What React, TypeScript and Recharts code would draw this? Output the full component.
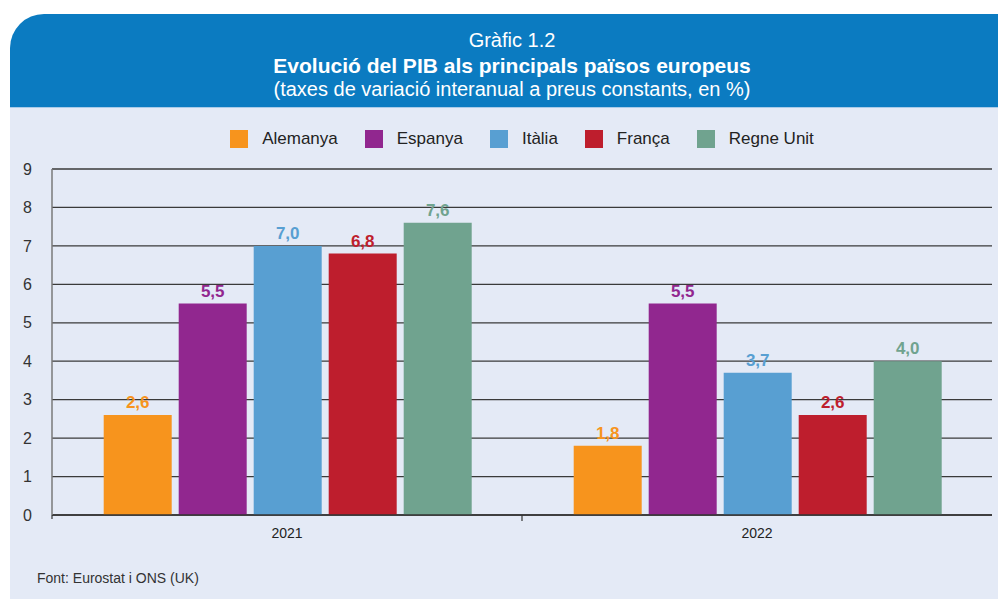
import { Bar, BarChart, CartesianGrid, LabelList, XAxis, YAxis } from "recharts"

const years = ["2021", "2022"]
const countries = ["Alemanya", "Espanya", "Itàlia", "França", "Regne Unit"]
const colors = ["#f7941d", "#91278f", "#589fd2", "#be1e2d", "#70a38f"]
const alemanya = [2.6, 1.8]
const espanya = [5.5, 5.5]
const italia = [7.0, 3.7]
const franca = [6.8, 2.6]
const regneUnit = [7.6, 4.0]
const yTicks = [0, 1, 2, 3, 4, 5, 6, 7, 8, 9]

const seriesValues = [alemanya, espanya, italia, franca, regneUnit]
const data = years.map((year, i) => {
  const row: Record<string, string | number> = { year }
  countries.forEach((c, j) => {
    row[c] = seriesValues[j][i]
  })
  return row
})

const FONT = "'Liberation Sans', Arial, Helvetica, sans-serif"
const fmt = (v: any) => Number(v).toFixed(1).replace(".", ",")

function YearTick(props: any) {
  const { x, y, payload } = props
  const half = payload?.offset ?? 235
  return (
    <g>
      <text x={x} y={y + 23} textAnchor="middle" fontSize={14} fill="#222" fontFamily={FONT}>
        {payload.value}
      </text>
      {payload.index === 0 && (
        <>
          <line x1={x - half} x2={x - half} y1={y} y2={y + 4} stroke="#333" strokeWidth={1.2} />
          <line x1={x + half} x2={x + half} y1={y} y2={y + 6} stroke="#333" strokeWidth={1.2} />
        </>
      )}
    </g>
  )
}

export default function App() {
  return (
    <div
      style={{
        position: "absolute",
        left: 0,
        top: 0,
        width: 998,
        height: 601,
        overflow: "hidden",
        background: "#fff",
        fontFamily: FONT,
      }}
    >
      <div
        style={{
          position: "absolute",
          left: 10,
          top: 14,
          width: 1004,
          height: 93,
          background: "#0b7bc1",
          borderTopLeftRadius: 34,
          color: "#fff",
          textAlign: "center",
        }}
      >
        <div style={{ position: "absolute", top: 14, width: "100%", fontSize: 20, lineHeight: "24px" }}>Gràfic 1.2</div>
        <div style={{ position: "absolute", top: 39, width: "100%", fontSize: 21, fontWeight: 700, lineHeight: "25px" }}>
          Evolució del PIB als principals països europeus
        </div>
        <div style={{ position: "absolute", top: 63, width: "100%", fontSize: 20, lineHeight: "25px" }}>
          (taxes de variació interanual a preus constants, en %)
        </div>
      </div>
      <div
        style={{
          position: "absolute",
          left: 10,
          top: 107,
          width: 988,
          height: 491,
          background: "#e4eaf6",
          borderTop: "1px solid #a9cbe8",
        }}
      />
      <div
        style={{
          position: "absolute",
          left: 52,
          top: 129,
          width: 940,
          height: 20,
          display: "flex",
          justifyContent: "center",
          alignItems: "center",
          gap: 27,
        }}
      >
        {countries.map((c, i) => (
          <div key={c} style={{ display: "flex", alignItems: "center", gap: 14 }}>
            <span style={{ width: 18, height: 18, background: colors[i], display: "inline-block" }} />
            <span style={{ fontSize: 17, color: "#222" }}>{c}</span>
          </div>
        ))}
      </div>
      <div style={{ position: "absolute", left: 0, top: 0 }}>
        <BarChart
          width={998}
          height={601}
          data={data}
          margin={{ top: 169, right: 6, bottom: 56, left: 12 }}
          barCategoryGap="11%"
          barGap={7}
        >
          <CartesianGrid vertical={false} stroke="#3a3a3a" strokeWidth={1.3} />
          <XAxis
            dataKey="year"
            height={30}
            tickLine={false}
            tickSize={0}
            tickMargin={0}
            axisLine={{ stroke: "#333", strokeWidth: 1.5 }}
            tick={<YearTick />}
          />
          <YAxis
            width={40}
            domain={[0, 9]}
            ticks={yTicks}
            interval={0}
            tickLine={false}
            tickMargin={14}
            axisLine={{ stroke: "#7a7a7a", strokeWidth: 1.5 }}
            tick={{ fill: "#333", fontSize: 16, fontFamily: FONT }}
          />
          {countries.map((c, i) => (
            <Bar key={c} dataKey={c} fill={colors[i]} isAnimationActive={false}>
              <LabelList
                dataKey={c}
                position="top"
                offset={7}
                formatter={fmt}
                fill={colors[i]}
                fontSize={17}
                fontWeight={700}
                fontFamily={FONT}
              />
            </Bar>
          ))}
        </BarChart>
      </div>
      <div style={{ position: "absolute", left: 37, top: 570, fontSize: 14, color: "#333" }}>
        Font: Eurostat i ONS (UK)
      </div>
    </div>
  )
}
